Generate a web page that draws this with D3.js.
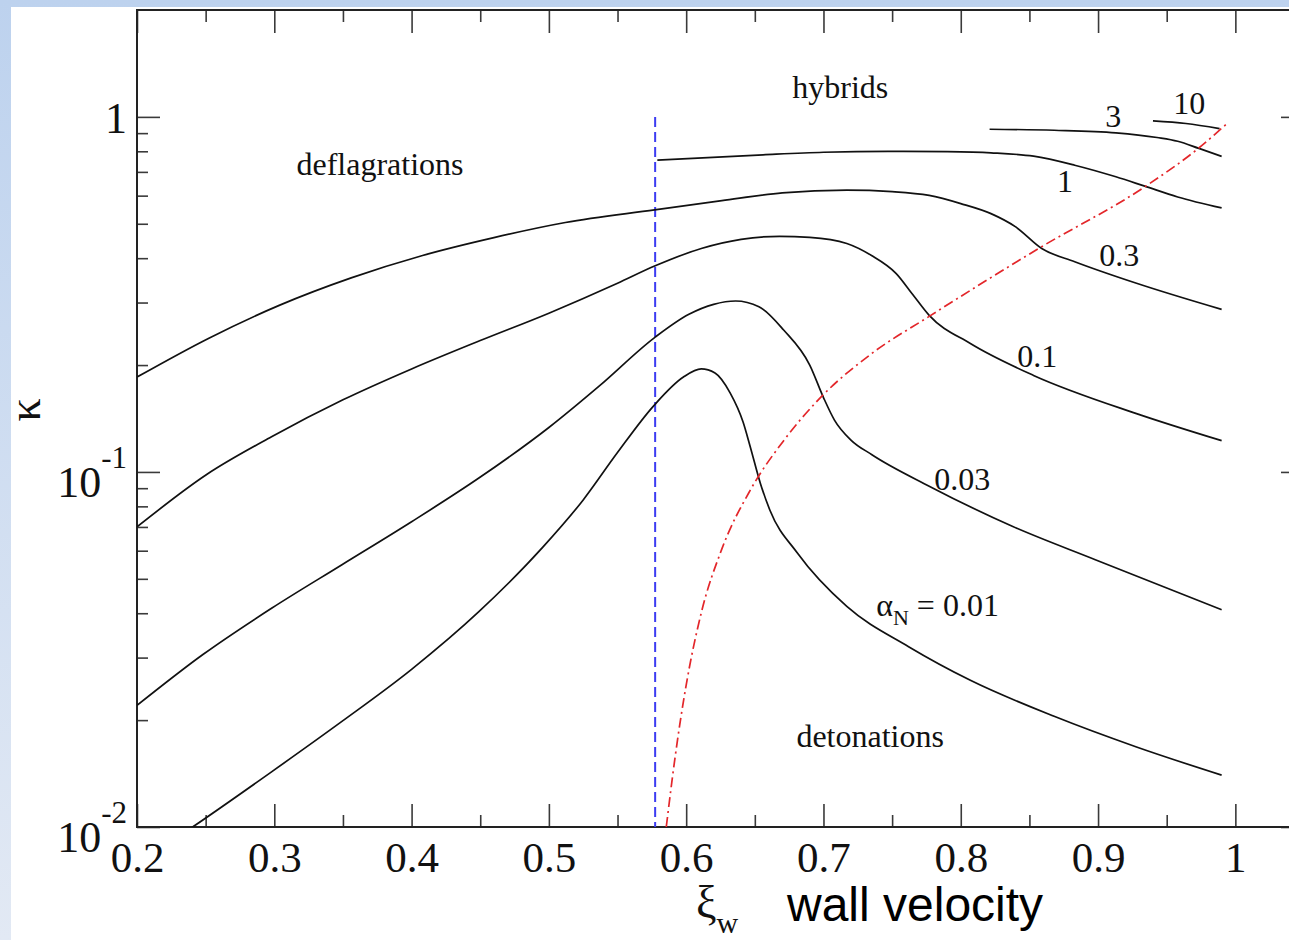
<!DOCTYPE html>
<html>
<head>
<meta charset="utf-8">
<script src="https://cdn.jsdelivr.net/npm/d3@7"></script>
<style>
  html, body { margin: 0; padding: 0; }
  body {
    width: 1289px;
    height: 940px;
    overflow: hidden;
    background: linear-gradient(#bdd2ee, #e2e9f4);
  }
  svg { display: block; }
</style>
</head>
<body>
<div id="chart"></div>
<script>
// kappa (efficiency factor) vs wall velocity xi_w, one curve per alpha_N
// values: [xi_w, kappa]

const alpha001 = [
  [0.232, 0.0095], [0.2405, 0.0100], [0.298, 0.0143], [0.349, 0.0198], [0.400, 0.0278],
  [0.449, 0.0404], [0.4956, 0.0614], [0.525, 0.0834], [0.5497, 0.113], [0.576, 0.153],
  [0.598, 0.185], [0.611, 0.195], [0.621, 0.190], [0.632, 0.167], [0.6415, 0.138],
  [0.6466, 0.118], [0.654, 0.093], [0.661, 0.078], [0.681, 0.0591], [0.717, 0.0418],
  [0.762, 0.0322], [0.807, 0.0259], [0.868, 0.0205], [0.928, 0.0168], [0.990, 0.0140]
];

const alpha003 = [
  [0.200, 0.0220], [0.248, 0.0306], [0.298, 0.0413], [0.349, 0.0547], [0.400, 0.0724],
  [0.449, 0.0961], [0.500, 0.1334], [0.537, 0.175], [0.577, 0.239], [0.602, 0.278],
  [0.620, 0.2965], [0.636, 0.303], [0.653, 0.292], [0.671, 0.251], [0.690, 0.200],
  [0.700, 0.162], [0.708, 0.140], [0.720, 0.123], [0.735, 0.112], [0.777, 0.0912],
  [0.8375, 0.0703], [0.898, 0.0566], [0.990, 0.0409]
];

const alpha01 = [
  [0.200, 0.0700], [0.251, 0.0985], [0.298, 0.1256], [0.350, 0.1596], [0.400, 0.195],
  [0.450, 0.2344], [0.500, 0.280], [0.550, 0.340], [0.577, 0.380], [0.611, 0.426],
  [0.640, 0.452], [0.668, 0.461], [0.690, 0.458], [0.717, 0.440], [0.735, 0.407],
  [0.753, 0.362], [0.765, 0.316], [0.777, 0.276], [0.807, 0.230], [0.853, 0.187],
  [0.928, 0.146], [0.990, 0.1225]
];

const alpha03 = [
  [0.200, 0.185], [0.252, 0.2377], [0.304, 0.295], [0.356, 0.352], [0.408, 0.407],
  [0.460, 0.457], [0.512, 0.504], [0.577, 0.547], [0.626, 0.581], [0.670, 0.611],
  [0.717, 0.622], [0.750, 0.616], [0.777, 0.601], [0.800, 0.570], [0.822, 0.534],
  [0.840, 0.490], [0.859, 0.426], [0.883, 0.391], [0.928, 0.340], [0.990, 0.287]
];

const alpha1 = [
  [0.579, 0.755], [0.656, 0.782], [0.700, 0.795], [0.747, 0.800], [0.790, 0.798],
  [0.822, 0.792], [0.853, 0.775], [0.883, 0.731], [0.913, 0.678], [0.934, 0.638],
  [0.958, 0.595], [0.990, 0.554]
];

const alpha3 = [
  [0.821, 0.923], [0.868, 0.917], [0.913, 0.902], [0.943, 0.875], [0.958, 0.854],
  [0.9735, 0.815], [0.990, 0.774]
];

const alpha10 = [
  [0.940, 0.974], [0.964, 0.958], [0.9885, 0.927]
];

// Jouguet velocity line (boundary hybrids / detonations)
const jouguet = [
  [0.5855, 0.0100], [0.592, 0.0158], [0.600, 0.0251], [0.611, 0.0401], [0.626, 0.0607],
  [0.647, 0.0893], [0.671, 0.1225], [0.699, 0.1637], [0.735, 0.2153], [0.777, 0.2742],
  [0.857, 0.4266], [0.934, 0.6353], [0.972, 0.809], [0.995, 0.966]
];

// speed of sound c_s = 1/sqrt(3), drawn from kappa = 1 down
const soundSpeed = [[0.5774, 1], [0.5774, 0.01]];

// tick values and labels
const xMajor = [0.2, 0.3, 0.4, 0.5, 0.6, 0.7, 0.8, 0.9, 1.0];
const xMinor = [0.25, 0.35, 0.45, 0.55, 0.65, 0.75, 0.85, 0.95];
const xTickLabels = ["0.2", "0.3", "0.4", "0.5", "0.6", "0.7", "0.8", "0.9", "1"];
const yMajor = [0.01, 0.1, 1];
const yTickBase = ["10", "10", "1"];
const yTickExp = ["-2", "-1", ""];
const yMinor = [0.02, 0.03, 0.04, 0.05, 0.06, 0.07, 0.08, 0.09,
                0.2, 0.3, 0.4, 0.5, 0.6, 0.7, 0.8, 0.9];

// curve labels and region names, placed in data units
const curveLabels = [
  { text: "3",    pos: [0.911, 0.936] },
  { text: "10",   pos: [0.9665, 1.019] },
  { text: "1",    pos: [0.876, 0.614] },
  { text: "0.3",  pos: [0.9155, 0.380] },
  { text: "0.1",  pos: [0.8557, 0.1975] },
  { text: "0.03", pos: [0.8011, 0.0889] }
];
const regionLabels = [
  { text: "hybrids",       pos: [0.7122, 1.13] },
  { text: "deflagrations", pos: [0.377, 0.686] },
  { text: "detonations",   pos: [0.734, 0.0168] }
];
const alphaLabelPos = [0.7384, 0.0393];

/**
 * Layout
 */
const width = 1289;
const height = 940;
const frame = { left: 137, right: 1304, top: 10, bottom: 827 };
const serif = "'Liberation Serif', 'Times New Roman', serif";

const svg = d3.select("#chart")
  .append("svg")
  .attr("width", width)
  .attr("height", height);

// white slide area
svg.append("rect")
  .attr("x", 11)
  .attr("y", 7)
  .attr("width", width - 11)
  .attr("height", height - 7)
  .attr("fill", "#ffffff");

const x = d3.scaleLinear()
  .domain([0.2, 1.05])
  .range([frame.left, frame.right]);

const y = d3.scaleLog()
  .domain([0.01, 2])
  .range([frame.bottom, frame.top]);

svg.append("clipPath")
  .attr("id", "plot-clip")
  .append("rect")
  .attr("x", frame.left)
  .attr("y", frame.top)
  .attr("width", frame.right - frame.left)
  .attr("height", frame.bottom - frame.top);

/**
 * Axes: ticks point inward on all four sides
 */
function styleAxis(g) {
  g.select(".domain").remove();
  g.attr("color", "#3a3a3a")
    .attr("font-family", serif)
    .attr("font-size", 43);
  g.selectAll(".tick line").attr("stroke-width", 1.6);
  g.selectAll(".tick text").attr("fill", "#111");
}

// bottom
svg.append("g")
  .attr("transform", `translate(0, ${frame.bottom})`)
  .call(d3.axisBottom(x).tickValues(xMajor).tickSize(-23).tickPadding(14)
    .tickFormat((d, i) => xTickLabels[i]))
  .call(styleAxis);

svg.append("g")
  .attr("transform", `translate(0, ${frame.bottom})`)
  .call(d3.axisBottom(x).tickValues(xMinor).tickSize(-12).tickFormat(""))
  .call(styleAxis);

// top
svg.append("g")
  .attr("transform", `translate(0, ${frame.top})`)
  .call(d3.axisTop(x).tickValues(xMajor).tickSize(-23).tickFormat(""))
  .call(styleAxis);

svg.append("g")
  .attr("transform", `translate(0, ${frame.top})`)
  .call(d3.axisTop(x).tickValues(xMinor).tickSize(-12).tickFormat(""))
  .call(styleAxis);

// left
svg.append("g")
  .attr("transform", `translate(${frame.left}, 0)`)
  .call(d3.axisLeft(y).tickValues(yMajor).tickSize(-23).tickFormat(""))
  .call(styleAxis);

svg.append("g")
  .attr("transform", `translate(${frame.left}, 0)`)
  .call(d3.axisLeft(y).tickValues(yMinor).tickSize(-11).tickFormat(""))
  .call(styleAxis);

// right
svg.append("g")
  .attr("transform", `translate(${frame.right}, 0)`)
  .call(d3.axisRight(y).tickValues(yMajor).tickSize(-23).tickFormat(""))
  .call(styleAxis);

svg.append("g")
  .attr("transform", `translate(${frame.right}, 0)`)
  .call(d3.axisRight(y).tickValues(yMinor).tickSize(-11).tickFormat(""))
  .call(styleAxis);

// y tick labels: 10^-2, 10^-1, 1
yMajor.forEach((v, i) => {
  const label = svg.append("text")
    .attr("x", frame.left - 10)
    .attr("y", y(v) + (yTickExp[i] ? 25 : 16))
    .attr("text-anchor", "end")
    .attr("font-family", serif)
    .attr("font-size", 44)
    .attr("fill", "#111");
  label.append("tspan").text(yTickBase[i]);
  if (yTickExp[i]) {
    label.append("tspan")
      .attr("dy", -29)
      .attr("font-size", 31)
      .text(yTickExp[i]);
  }
});

// frame
svg.append("rect")
  .attr("x", frame.left)
  .attr("y", frame.top)
  .attr("width", frame.right - frame.left)
  .attr("height", frame.bottom - frame.top)
  .attr("fill", "none")
  .attr("stroke", "#222")
  .attr("stroke-width", 2);

/**
 * Curves
 */
const line = d3.line()
  .x(d => x(d[0]))
  .y(d => y(d[1]))
  .curve(d3.curveMonotoneX);

const plotArea = svg.append("g").attr("clip-path", "url(#plot-clip)");

// c_s line
plotArea.append("path")
  .datum(soundSpeed)
  .attr("d", d3.line().x(d => x(d[0])).y(d => y(d[1])))
  .attr("fill", "none")
  .attr("stroke", "#3c3cf2")
  .attr("stroke-width", 2)
  .attr("stroke-dasharray", "10,5");

[alpha001, alpha003, alpha01, alpha03, alpha1, alpha3, alpha10].forEach(series => {
  plotArea.append("path")
    .datum(series)
    .attr("d", line)
    .attr("fill", "none")
    .attr("stroke", "#111")
    .attr("stroke-width", 1.7);
});

// Jouguet line, dash-dot
plotArea.append("path")
  .datum(jouguet)
  .attr("d", line)
  .attr("fill", "none")
  .attr("stroke", "#e3262a")
  .attr("stroke-width", 1.7)
  .attr("stroke-dasharray", "10,4,2,4");

/**
 * Labels
 */
curveLabels.concat(regionLabels).forEach(d => {
  svg.append("text")
    .attr("x", x(d.pos[0]))
    .attr("y", y(d.pos[1]))
    .attr("text-anchor", "middle")
    .attr("font-family", serif)
    .attr("font-size", 32)
    .attr("fill", "#111")
    .text(d.text);
});

// alpha_N = 0.01
const alphaLabel = svg.append("text")
  .attr("x", x(alphaLabelPos[0]))
  .attr("y", y(alphaLabelPos[1]))
  .attr("font-family", serif)
  .attr("font-size", 32)
  .attr("fill", "#111");
alphaLabel.append("tspan").text("α");
alphaLabel.append("tspan").attr("dy", 9).attr("font-size", 22).text("N");
alphaLabel.append("tspan").attr("dy", -9).text(" = 0.01");

// axis titles
svg.append("text")
  .attr("transform", "translate(40, 410) rotate(-90)")
  .attr("text-anchor", "middle")
  .attr("font-family", serif)
  .attr("font-size", 46)
  .attr("fill", "#111")
  .text("κ");

const xiLabel = svg.append("text")
  .attr("x", 696)
  .attr("y", 918)
  .attr("font-family", serif)
  .attr("font-size", 46)
  .attr("fill", "#111");
xiLabel.append("tspan").text("ξ");
xiLabel.append("tspan").attr("dy", 15).attr("font-size", 30).text("w");

svg.append("text")
  .attr("x", 787)
  .attr("y", 921)
  .attr("font-family", "'Liberation Sans', Arial, sans-serif")
  .attr("font-size", 48)
  .attr("fill", "#000")
  .text("wall velocity");
</script>
</body>
</html>
